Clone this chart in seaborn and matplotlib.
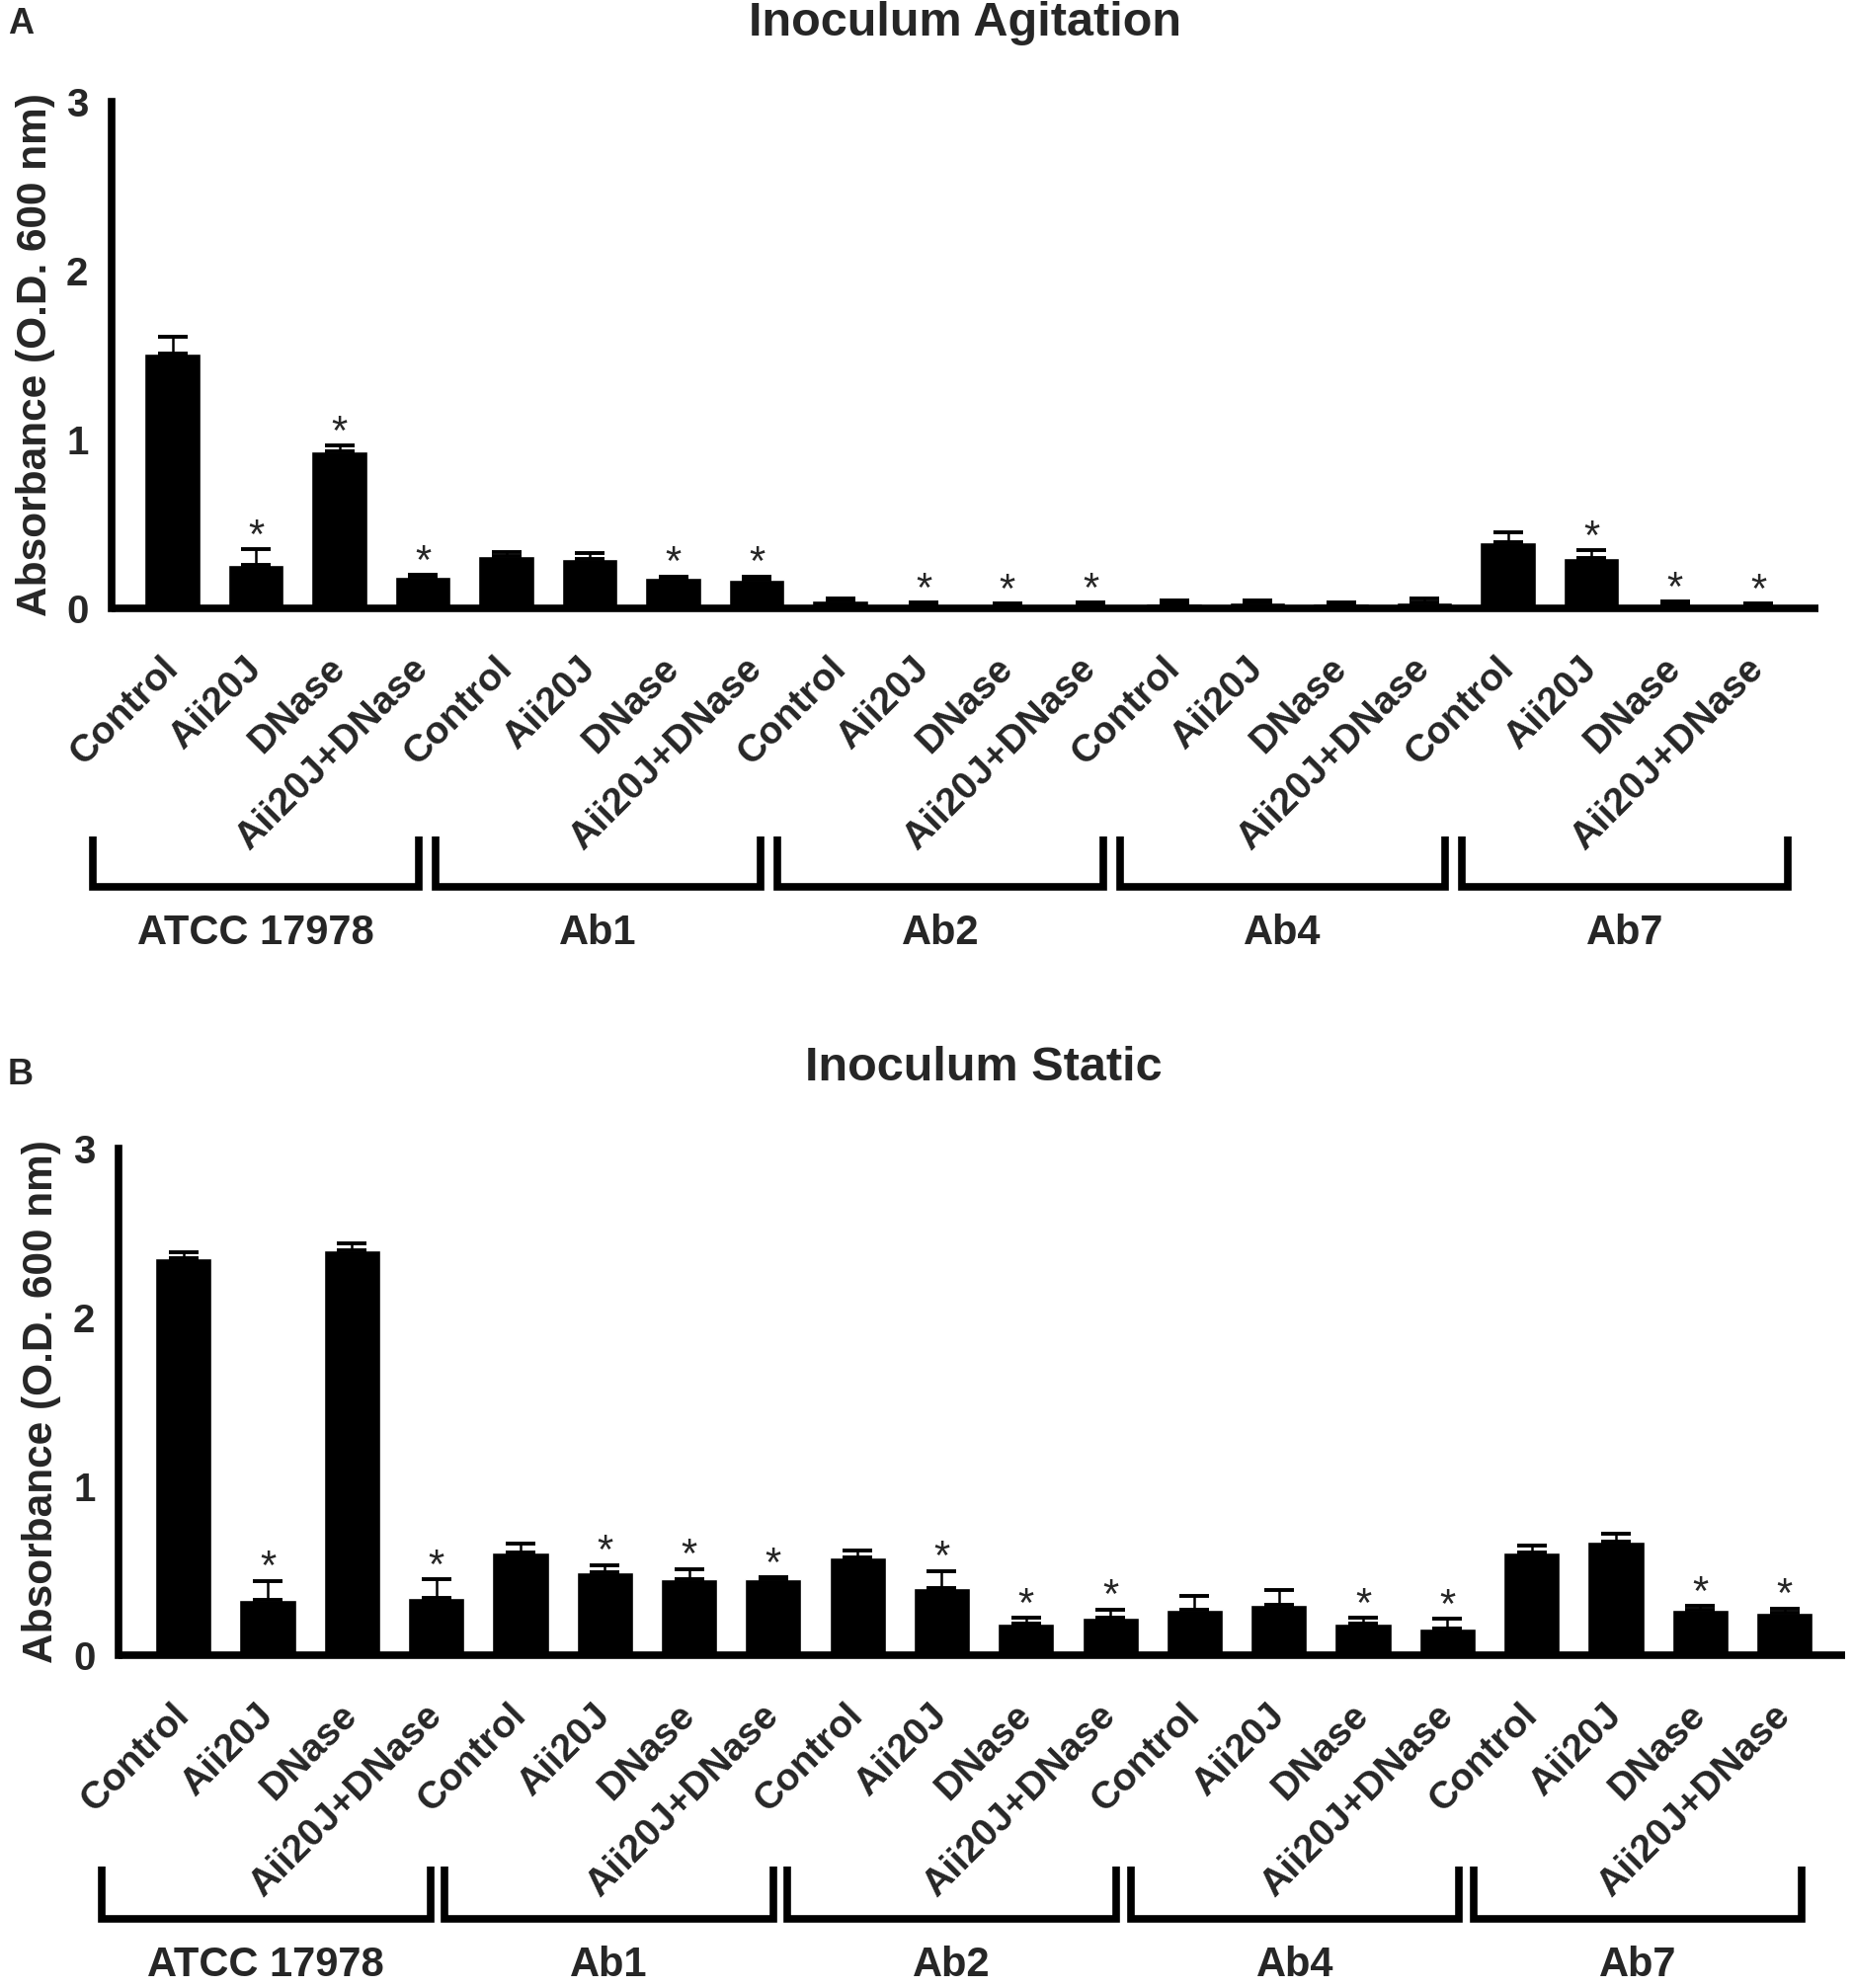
import matplotlib
matplotlib.use("Agg")
import matplotlib.pyplot as plt
import numpy as np
import pandas as pd
import seaborn as sns

strains = ["ATCC 17978", "Ab1", "Ab2", "Ab4", "Ab7"]
treatments = ["Control", "Aii20J", "DNase", "Aii20J+DNase"]

# panel A - inoculum agitation (mean, upper SD)
agit_mean = [1.51, 0.255, 0.93, 0.19,
             0.31, 0.29, 0.18, 0.17,
             0.045, 0.025, 0.02, 0.025,
             0.03, 0.035, 0.03, 0.035,
             0.39, 0.30, 0.025, 0.02]
agit_err = [0.10, 0.095, 0.035, 0.006,
            0.025, 0.04, 0.01, 0.02,
            0.015, 0.01, 0.008, 0.008,
            0.015, 0.01, 0.008, 0.025,
            0.06, 0.045, 0.015, 0.008]
agit_sig = [0, 1, 1, 1, 0, 0, 1, 1, 0, 1, 1, 1, 0, 0, 0, 0, 0, 1, 1, 1]

# panel B - inoculum static
static_mean = [2.35, 0.33, 2.40, 0.34,
               0.61, 0.49, 0.45, 0.45,
               0.58, 0.40, 0.19, 0.22,
               0.27, 0.30, 0.19, 0.16,
               0.61, 0.67, 0.27, 0.25]
static_err = [0.035, 0.11, 0.04, 0.11,
              0.05, 0.045, 0.06, 0.01,
              0.04, 0.10, 0.03, 0.05,
              0.08, 0.085, 0.03, 0.055,
              0.04, 0.05, 0.02, 0.025]
static_sig = [0, 1, 0, 1, 0, 1, 1, 1, 0, 1, 1, 1, 0, 0, 1, 1, 0, 0, 1, 1]

sns.set_style("white")
plt.rcParams["font.family"] = ["Liberation Sans", "DejaVu Sans"]
plt.rcParams["font.weight"] = "bold"
plt.rcParams["axes.labelweight"] = "bold"


def draw_panel(fig, rect, means, errs, sig, title, letter, title_xy, letter_xy,
               xlim, bracket_y, label_y, bracket_start, bracket_pitch):
    ax = fig.add_axes(rect)
    df = pd.DataFrame({
        "strain": np.repeat(strains, len(treatments)),
        "treatment": treatments * len(strains),
        "od": means,
    })
    df["key"] = df["strain"] + " " + df["treatment"]
    sns.barplot(data=df, x="key", y="od", order=list(df["key"]), color="black",
                saturation=1, width=0.67, errorbar=None, ax=ax)
    n = len(df)
    xs = np.arange(n)
    ax.errorbar(xs, df["od"], yerr=[np.zeros(n), errs], fmt="none", ecolor="black",
                elinewidth=1.8, capsize=11, capthick=2.8, zorder=3)
    for i in xs:
        if sig[i]:
            ax.annotate("*", xy=(i, means[i] + errs[i]), xytext=(0, 9),
                        textcoords="offset points", ha="center", va="center",
                        fontsize=30, fontweight="normal", annotation_clip=False)

    ax.set_xlim(*xlim)
    ax.set_ylim(0, 3)
    ax.set_yticks([0, 1, 2, 3])
    ax.set_yticklabels(["0", "1", "2", "3"])
    ax.set_xticks(xs)
    ax.set_xticklabels(treatments * len(strains), rotation=45, ha="right",
                       va="center", rotation_mode="anchor")
    ax.set_xlabel("")
    ax.set_ylabel("Absorbance (O.D. 600 nm)", fontsize=30.5, fontweight="bold")
    ax.yaxis.set_label_coords(-0.033, 0.5)
    sns.despine(ax=ax)
    for side in ["left", "bottom"]:
        ax.spines[side].set_linewidth(5.5)
        ax.spines[side].set_color("black")
    ax.tick_params(axis="x", length=24, width=4.5, pad=16, labelsize=28, color="black")
    ax.tick_params(axis="y", length=13, width=5.5, pad=4, labelsize=29, color="black")
    ax.spines["bottom"].set_capstyle("butt")

    # strain brackets under the tick labels (slightly wider pitch than the bars)
    tr = ax.get_xaxis_transform()
    for g, name in enumerate(strains):
        xc = bracket_start + bracket_pitch * g
        x0, x1 = xc - 1.95, xc + 1.95
        ax.plot([x0, x0, x1, x1], [bracket_y[0], bracket_y[1], bracket_y[1], bracket_y[0]],
                color="black", lw=5.5, transform=tr, clip_on=False,
                solid_joinstyle="miter", solid_capstyle="butt")
        ax.text(xc, label_y, name, transform=tr, ha="center", va="center",
                fontsize=30, fontweight="bold")

    fig.text(title_xy[0], title_xy[1], title, ha="center", va="center",
             fontsize=35, fontweight="bold")
    fig.text(letter_xy[0], letter_xy[1], letter, ha="left", va="center",
             fontsize=26, fontweight="bold")
    return ax


fig = plt.figure(figsize=(18.76, 20.13), dpi=100)

draw_panel(fig, [113 / 1876, 1 - 616 / 2013, 1728 / 1876, 513 / 2013],
           agit_mean, agit_err, agit_sig, "Inoculum Agitation", "A",
           (977 / 1876, 1 - 23 / 2013), (8 / 1876, 1 - 25 / 2013),
           (-0.73, 19.72), (-0.450, -0.549), -0.642, 1.0, 4.1)

draw_panel(fig, [120 / 1876, 1 - 1676 / 2013, 1748 / 1876, 513 / 2013],
           static_mean, static_err, static_sig, "Inoculum Static", "B",
           (996 / 1876, 1 - 1082 / 2013), (8 / 1876, 1 - 1088 / 2013),
           (-0.77, 19.72), (-0.417, -0.520), -0.612, 0.98, 4.07)

fig.savefig("out.png", dpi=100)
